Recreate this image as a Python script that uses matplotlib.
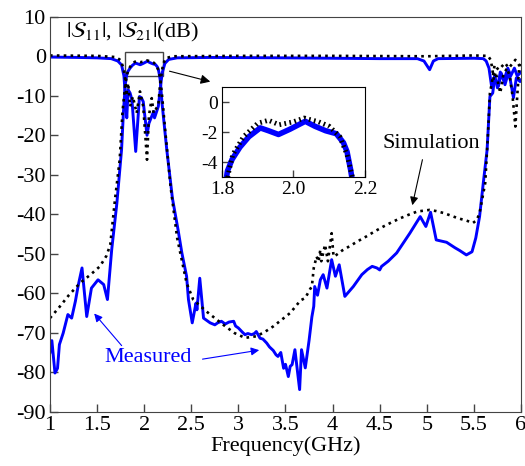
import matplotlib
matplotlib.use("Agg")
import matplotlib.pyplot as plt
from matplotlib.patches import Rectangle

plt.rcParams["font.family"] = ["Liberation Serif", "DejaVu Serif"]
plt.rcParams["mathtext.fontset"] = "stix"
plt.rcParams["axes.unicode_minus"] = False

# measured |S21| (dB)
f_s21_meas = [1.00, 1.02, 1.053, 1.08, 1.10, 1.14, 1.19, 1.23, 1.27, 1.30, 1.34, 1.39, 1.44, 1.51,
              1.57, 1.61, 1.655, 1.71, 1.76, 1.78, 1.80, 1.815, 1.828, 1.85, 1.875, 1.907, 1.93,
              1.958, 1.99, 2.033, 2.06, 2.09, 2.12, 2.14, 2.15, 2.16, 2.17, 2.19, 2.24, 2.30, 2.36,
              2.40, 2.45, 2.47, 2.51, 2.55, 2.56, 2.59, 2.63, 2.70, 2.75, 2.78, 2.82, 2.86, 2.90,
              2.95, 2.97, 3.00, 3.04, 3.07, 3.10, 3.14, 3.17, 3.19, 3.23, 3.26, 3.30, 3.33, 3.37,
              3.40, 3.42, 3.45, 3.48, 3.50, 3.53, 3.55, 3.57, 3.60, 3.65, 3.67, 3.71, 3.75, 3.78,
              3.80, 3.81, 3.84, 3.87, 3.90, 3.94, 3.99, 4.03, 4.07, 4.13, 4.22, 4.31, 4.37, 4.42,
              4.47, 4.50, 4.52, 4.59, 4.68, 4.75, 4.82, 4.88, 4.93, 4.99, 5.04, 5.10, 5.21, 5.30,
              5.35, 5.42, 5.48, 5.52, 5.56, 5.60, 5.64, 5.67, 5.70, 5.72, 5.76, 5.79, 5.83, 5.87,
              5.92, 5.95, 5.99, 6.00]
s21_meas = [-75, -72, -80.2, -79, -73, -70.1, -65.4, -66.3, -62, -58, -53.6, -65.9, -58.7, -56.6,
            -57.8, -61.6, -49, -37.2, -23.6, -14, -7, -4.6, -3.82, -3.0, -2.3, -1.71, -1.9,
            -2.15, -1.8, -1.27, -1.6, -1.9, -2.1, -2.7, -3.3, -4.5, -6.0, -12, -23.7, -36, -44,
            -49.8, -55.7, -61.6, -67.5, -62.5, -64.2, -56.2, -66.3, -67.5, -68, -67.5, -67.1, -67.8, -67.3,
            -67.1, -68.3, -68.8, -69.8, -70.5, -70.2, -70.5, -70.2, -69.7, -71.4, -71.6, -72.6, -73.6, -74.5,
            -75.6, -76, -75, -79, -78, -81.1, -78.5, -78.1, -74.3, -84.4, -74.3, -78.9, -72, -66,
            -63.3, -58.3, -60.5, -56.6, -55.3, -58.7, -51.5, -55.7, -52.8, -60.8, -58.3, -55.3, -54, -53.2,
            -53.6, -54.1, -53.2, -51.9, -49.8, -47.3, -44.8, -42.5, -40.6, -43.1, -39.5, -46.5, -47.1, -48.5,
            -49.2, -50.3, -49.5, -46, -40.6, -32, -23.7, -10.2, -9.3, -5.5, -7.6, -4.3, -7.2, -3.8,
            -10.5, -5.5, -6.4, -6]

# simulated |S21| (dB)
f_s21_sim = [1.00, 1.10, 1.20, 1.32, 1.43, 1.53, 1.60, 1.64, 1.69, 1.74, 1.77, 1.80, 1.82, 1.83,
             1.86, 1.90, 1.93, 1.96, 2.00, 2.03, 2.07, 2.10, 2.13, 2.15, 2.17, 2.19, 2.22, 2.28,
             2.35, 2.45, 2.52, 2.66, 2.84, 2.96, 3.07, 3.19, 3.28, 3.37, 3.46, 3.55, 3.66, 3.71,
             3.76, 3.78, 3.80, 3.83, 3.85, 3.87, 3.88, 3.92, 3.95, 3.99, 4.01, 4.04, 4.10, 4.18,
             4.27, 4.36, 4.45, 4.54, 4.63, 4.72, 4.81, 4.90, 5.03, 5.10, 5.18, 5.25, 5.33, 5.42,
             5.49, 5.53, 5.56, 5.62, 5.65, 5.67, 5.69, 5.72, 5.76, 5.78, 5.83, 5.87, 5.94, 5.99, 6.00]
s21_sim = [-66.3, -63.5, -60.5, -57.4, -55.3, -53.2, -50.5, -47.7, -36.3, -26.2, -14, -7, -4.5, -3.5,
           -2.3, -1.4, -1.2, -1.5, -1.3, -1.05, -1.3, -1.6, -2.3, -3.5, -5.5, -10, -18, -33,
           -46, -57.4, -61.6, -64.6, -68, -70.1, -71.3, -70.9, -69.8, -68.4, -66.7, -65, -61.8, -61.2,
           -59, -58.3, -53.6, -50.7, -52, -49, -51.9, -47.7, -51.9, -44.8, -50.7, -50.3, -49.2, -48.1,
           -46.8, -45.6, -44.3, -43.1, -42, -41, -40.1, -39.3, -38.9, -39.2, -39.7, -40.3, -41, -41.6,
           -42.2, -41.5, -39.7, -32.1, -19.4, -9.3, -6.8, -2.2, -3.4, -3, -1.7, -3, -0.9, -2.6, -2.5]

# measured |S11| (dB)
f_s11_meas = [1.00, 1.30, 1.50, 1.65, 1.72, 1.76, 1.785, 1.80, 1.815, 1.83, 1.85, 1.87, 1.91, 1.95,
              1.97, 1.99, 2.03, 2.05, 2.08, 2.10, 2.11, 2.15, 2.17, 2.19, 2.22, 2.26, 2.35, 2.70,
              3.50, 4.00, 4.50, 4.90, 4.97, 5.03, 5.07, 5.12, 5.50, 5.60, 5.63, 5.66, 5.69, 5.72,
              5.75, 5.78, 5.82, 5.86, 5.89, 5.93, 5.96, 6.00]
s11_meas = [-0.2, -0.3, -0.4, -0.6, -1.2, -2.2, -5, -10, -15.6, -8.5, -9.3, -11, -24.1, -10.2,
            -10.5, -11.5, -20, -17, -15.2, -14, -15.6, -12.7, -8.5, -4.3, -1.8, -0.8, -0.4, -0.3,
            -0.4, -0.5, -0.6, -0.6, -1.2, -3.4, -1.2, -0.6, -0.5, -0.6, -1.2, -3, -8, -5,
            -8, -4, -6, -3, -5, -3, -5, -4]

# simulated |S11| (dB)
f_s11_sim = [1.00, 1.50, 1.70, 1.75, 1.78, 1.80, 1.81, 1.83, 1.85, 1.88, 1.92, 1.955, 1.99, 2.03,
             2.05, 2.08, 2.10, 2.15, 2.17, 2.20, 2.23, 2.30, 3.00, 4.00, 5.00, 5.50, 5.65, 5.68,
             5.70, 5.71, 5.73, 5.75, 5.78, 5.81, 5.85, 5.88, 5.91, 5.94, 5.96, 5.98, 6.00]
s11_sim = [0.2, 0.1, -0.2, -1, -3, -6, -10, -6.8, -12.7, -10.2, -14.4, -8.9, -12.7, -26.2,
           -15.2, -10.6, -14.4, -12.3, -6.8, -2, -0.5, 0, 0.1, 0.1, 0.0, 0.2, 0.1, -1,
           -4, -6, -4, -6, -9.3, -5, -3, -5, -10, -17.8, -10, -3, -2]

x_ticks = [1, 1.5, 2, 2.5, 3, 3.5, 4, 4.5, 5, 5.5, 6]
x_tick_labels = ["1", "1.5", "2", "2.5", "3", "3.5", "4", "4.5", "5", "5.5", "6"]
y_ticks = [10, 0, -10, -20, -30, -40, -50, -60, -70, -80, -90]

BLUE = "#0000ff"
FRAME = "#444444"
DOTS = (0, (1, 1.6))


def style_axes(ax, size, length):
    for sp in ax.spines.values():
        sp.set_color(FRAME)
    ax.tick_params(direction="in", length=length, width=1, color=FRAME,
                   labelsize=size, pad=3, top=False, right=False)


fig = plt.figure(figsize=(5.25, 4.66), dpi=100)
ax = fig.add_axes([0.0952, 0.1165, 0.8972, 0.8475])

ax.plot(f_s11_meas, s11_meas, color=BLUE, lw=2.1)
ax.plot(f_s21_meas, s21_meas, color=BLUE, lw=2.1)
ax.plot(f_s11_sim, s11_sim, color="black", lw=1.9, linestyle=DOTS)
ax.plot(f_s21_sim, s21_sim, color="black", lw=1.9, linestyle=DOTS)

ax.set_xlim(1, 6)
ax.set_ylim(-90, 10)
ax.set_xticks(x_ticks, x_tick_labels)
ax.set_yticks(y_ticks)
style_axes(ax, 16, 6)
ax.set_xlabel("Frequency(GHz)", fontsize=16, labelpad=1)

ax.text(1.17, 5.9, r"$|\mathcal{S}_{11}|$, $|\mathcal{S}_{21}|$(dB)", fontsize=16, va="center")

ax.add_patch(Rectangle((1.8, -5), 0.4, 6, fill=False, edgecolor=FRAME, lw=1))
ax.annotate("", xy=(2.73, -6.6), xytext=(2.24, -3.6),
            arrowprops=dict(arrowstyle="-|>", color="black", lw=0.8, mutation_scale=14))

ax.text(5.05, -22, "Simulation", fontsize=16, ha="center", va="center")
ax.annotate("", xy=(4.84, -38.4), xytext=(4.96, -25.5),
            arrowprops=dict(arrowstyle="-|>", color="black", lw=0.8, mutation_scale=12))

ax.text(2.04, -76.3, "Measured", fontsize=16, ha="center", va="center", color=BLUE)
ax.annotate("", xy=(1.45, -64.6), xytext=(1.78, -73.8),
            arrowprops=dict(arrowstyle="-|>", color=BLUE, lw=0.8, mutation_scale=12))
ax.annotate("", xy=(3.25, -74.3), xytext=(2.59, -76.8),
            arrowprops=dict(arrowstyle="-|>", color=BLUE, lw=0.8, mutation_scale=12))

# zoomed passband
ins = fig.add_axes([0.423, 0.62, 0.272, 0.1925])
ins.plot(f_s21_meas, s21_meas, color=BLUE, lw=4)
ins.plot(f_s21_sim, s21_sim, color="black", lw=3.5, linestyle=(0, (0.35, 0.7)))
ins.set_xlim(1.8, 2.2)
ins.set_ylim(-5, 1)
ins.set_xticks([1.8, 2.0, 2.2], ["1.8", "2.0", "2.2"])
ins.set_yticks([0, -2, -4])
style_axes(ins, 14, 5)
for sp in ins.spines.values():
    sp.set_color("black")

fig.savefig("out.png", dpi=100)
